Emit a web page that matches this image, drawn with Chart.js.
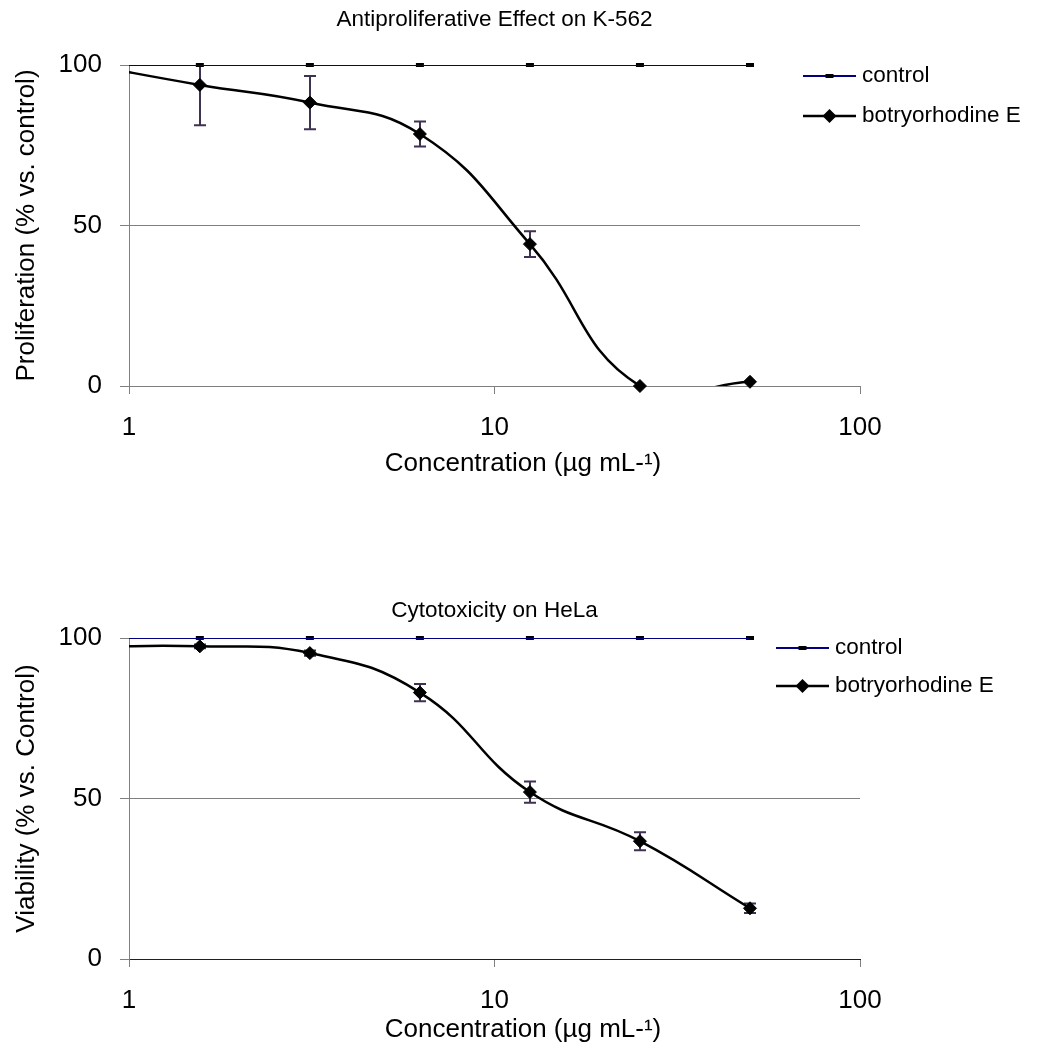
<!DOCTYPE html>
<html lang="en">
<head>
<meta charset="UTF-8">
<title>Botryorhodine E - K-562 and HeLa</title>
<script src="https://cdn.jsdelivr.net/npm/chart.js"></script>
<style>
  body { margin: 0; background: #fff; }
  .wrap { position: relative; width: 1050px; height: 1046px; }
  .wrap canvas { position: absolute; left: 0; }
  #k562 { top: 0; }
  #hela { top: 573px; }
</style>
</head>
<body>
<div class="wrap">
  <canvas id="k562" width="1050" height="480"></canvas>
  <canvas id="hela" width="1050" height="473"></canvas>
</div>
<script>
// concentrations (µg/mL); the first one sits left of the axis and only shapes the start of the curves
const concentrations = [0.78125, 1.5625, 3.125, 6.25, 12.5, 25, 50];
const xTicks = [1, 10, 100];
const yTicks = [0, 50, 100];

// K-562 proliferation (% vs. control)
const k562Control = [100, 100, 100, 100, 100, 100, 100];
const k562Botryo = [100, 93.8, 88.3, 78.5, 44.2, 0, 1.3];
const k562Err = [0, 12.6, 8.3, 3.9, 4.0, 0, 0];

// HeLa viability (% vs. control)
const helaControl = [100, 100, 100, 100, 100, 100, 100];
const helaBotryo = [97.3, 97.4, 95.3, 83.0, 52.0, 36.7, 15.8];
const helaErr = [0, 0.6, 0.8, 2.7, 3.3, 2.8, 1.5];

const FONT = '"Liberation Sans", Arial, sans-serif';
const axisFont = { family: FONT, size: 26 };
const NAVY = '#000080';
const AXIS = '#808080';
const ERR = '#3f3151';

const pts = ys => concentrations.map((c, i) => ({ x: c, y: ys[i] }));

// error bars, clipped to the plot area like in the original
const errorBars = {
  id: 'errorBars',
  beforeDatasetsDraw(chart) {
    const { ctx, chartArea: a, scales: { x, y } } = chart;
    ctx.save();
    ctx.beginPath();
    ctx.rect(a.left, a.top, a.right - a.left, a.bottom - a.top);
    ctx.clip();
    ctx.strokeStyle = ERR;
    ctx.lineWidth = 2;
    chart.data.datasets.forEach(ds => {
      if (!ds.errors) return;
      ds.data.forEach((p, i) => {
        const e = ds.errors[i];
        if (!e) return;
        const px = Math.round(x.getPixelForValue(p.x));
        const top = y.getPixelForValue(p.y + e);
        const bot = y.getPixelForValue(p.y - e);
        ctx.beginPath();
        ctx.moveTo(px, top); ctx.lineTo(px, bot);
        ctx.moveTo(px - 6, top); ctx.lineTo(px + 6, top);
        ctx.moveTo(px - 6, bot); ctx.lineTo(px + 6, bot);
        ctx.stroke();
      });
    });
    ctx.restore();
  }
};

// chart title centred over the plot area, x-axis title centred on the whole chart (Excel does that)
const chartTexts = {
  id: 'chartTexts',
  afterDraw(chart, args, opts) {
    const { ctx, chartArea: a } = chart;
    ctx.save();
    ctx.fillStyle = '#000';
    ctx.textAlign = 'center';
    ctx.textBaseline = 'middle';
    ctx.font = `22.5px ${FONT}`;
    ctx.fillText(opts.title, (a.left + a.right) / 2, opts.titleY);
    ctx.font = `26px ${FONT}`;
    ctx.fillText(opts.xTitle, chart.width / 2 - 2, opts.xTitleY);
    ctx.restore();
  }
};

// legend overlapping the right end of the plot, Excel style
const sideLegend = {
  id: 'sideLegend',
  afterDraw(chart, args, opts) {
    const { ctx } = chart;
    const lines = chart.data.datasets.filter(d => d.showLine !== false);
    ctx.save();
    ctx.font = `22.5px ${FONT}`;
    ctx.textBaseline = 'middle';
    ctx.textAlign = 'left';
    lines.forEach((d, i) => {
      const y = opts.y + i * opts.gap;
      const x0 = opts.x, x1 = opts.x + 53, xm = (x0 + x1) / 2;
      ctx.strokeStyle = d.borderColor;
      ctx.lineWidth = d.borderWidth;
      ctx.beginPath(); ctx.moveTo(x0, y); ctx.lineTo(x1, y); ctx.stroke();
      ctx.fillStyle = '#000';
      if (d.legendMark === 'bar') {
        ctx.fillRect(xm - 4, y - 2, 8, 4);
      } else {
        ctx.beginPath();
        ctx.moveTo(xm - 7, y); ctx.lineTo(xm, y - 7); ctx.lineTo(xm + 7, y); ctx.lineTo(xm, y + 7);
        ctx.closePath(); ctx.fill();
      }
      ctx.fillText(d.label, x1 + 6, y);
    });
    ctx.restore();
  }
};

function makeChart(id, o) {
  return new Chart(document.getElementById(id), {
    type: 'line',
    data: {
      datasets: [
        {
          label: 'control', legendMark: 'bar',
          data: pts(o.control), borderColor: NAVY, borderWidth: 2,
          pointRadius: 0, tension: 0, clip: { left: 0, top: 0, right: 0, bottom: 0 }
        },
        {
          label: 'control', showLine: false,
          data: pts(o.control).slice(1), pointStyle: 'line', pointRadius: 4,
          pointBorderWidth: 4, pointBorderColor: '#000', clip: false
        },
        {
          label: 'botryorhodine E', legendMark: 'diamond',
          data: pts(o.botryo), borderColor: '#000', borderWidth: 2.5,
          pointRadius: 0, tension: 0.45, capBezierPoints: false,
          clip: { left: 0, top: 0, right: 0, bottom: 0 }
        },
        {
          label: 'botryorhodine E', showLine: false, errors: o.err.slice(1),
          data: pts(o.botryo).slice(1), pointStyle: 'rectRot', pointRadius: 6.5,
          pointBackgroundColor: '#000', pointBorderColor: '#000', pointBorderWidth: 1, clip: false
        }
      ]
    },
    options: {
      responsive: false,
      animation: false,
      events: [],
      layout: { padding: { top: 65, right: 190, left: 0, bottom: 0 } },
      plugins: {
        legend: { display: false },
        tooltip: { enabled: false },
        chartTexts: {
          title: o.title, titleY: o.titleY,
          xTitle: 'Concentration (µg mL-¹)', xTitleY: o.xTitleY
        },
        sideLegend: { x: o.legendX, y: o.legendY, gap: o.legendGap }
      },
      scales: {
        x: {
          type: 'logarithmic', min: 1, max: 100,
          afterBuildTicks: s => { s.ticks = xTicks.map(v => ({ value: v })); },
          afterFit: s => { s.height = o.xAxisHeight; },
          border: { color: o.xBorder, width: 1 },
          grid: { drawOnChartArea: false, drawTicks: true, tickLength: 8, color: AXIS },
          ticks: { color: '#000', font: axisFont, padding: 18, maxRotation: 0, autoSkip: false, callback: v => String(v) }
        },
        y: {
          min: 0, max: 100,
          afterBuildTicks: s => { s.ticks = yTicks.map(v => ({ value: v })); },
          afterFit: s => { s.width = 129; },
          border: { color: AXIS, width: 1 },
          grid: {
            color: c => (c.tick && c.tick.value === 50) ? AXIS : 'rgba(0,0,0,0)',
            tickColor: AXIS, tickLength: 9
          },
          ticks: { color: '#000', font: axisFont, padding: 18 },
          title: { display: true, text: o.yTitle, color: '#000', font: axisFont, padding: { top: 11, bottom: 0 } }
        }
      }
    },
    plugins: [errorBars, chartTexts, sideLegend]
  });
}

makeChart('k562', {
  control: k562Control, botryo: k562Botryo, err: k562Err,
  title: 'Antiproliferative Effect on K-562', titleY: 20, xTitleY: 464,
  yTitle: 'Proliferation (% vs. control)',
  legendX: 803, legendY: 76, legendGap: 40,
  xAxisHeight: 94, xBorder: AXIS
});

makeChart('hela', {
  control: helaControl, botryo: helaBotryo, err: helaErr,
  title: 'Cytotoxicity on HeLa', titleY: 38, xTitleY: 457,
  yTitle: 'Viability (% vs. Control)',
  legendX: 776, legendY: 75, legendGap: 38,
  xAxisHeight: 87, xBorder: '#202020'
});
</script>
</body>
</html>
